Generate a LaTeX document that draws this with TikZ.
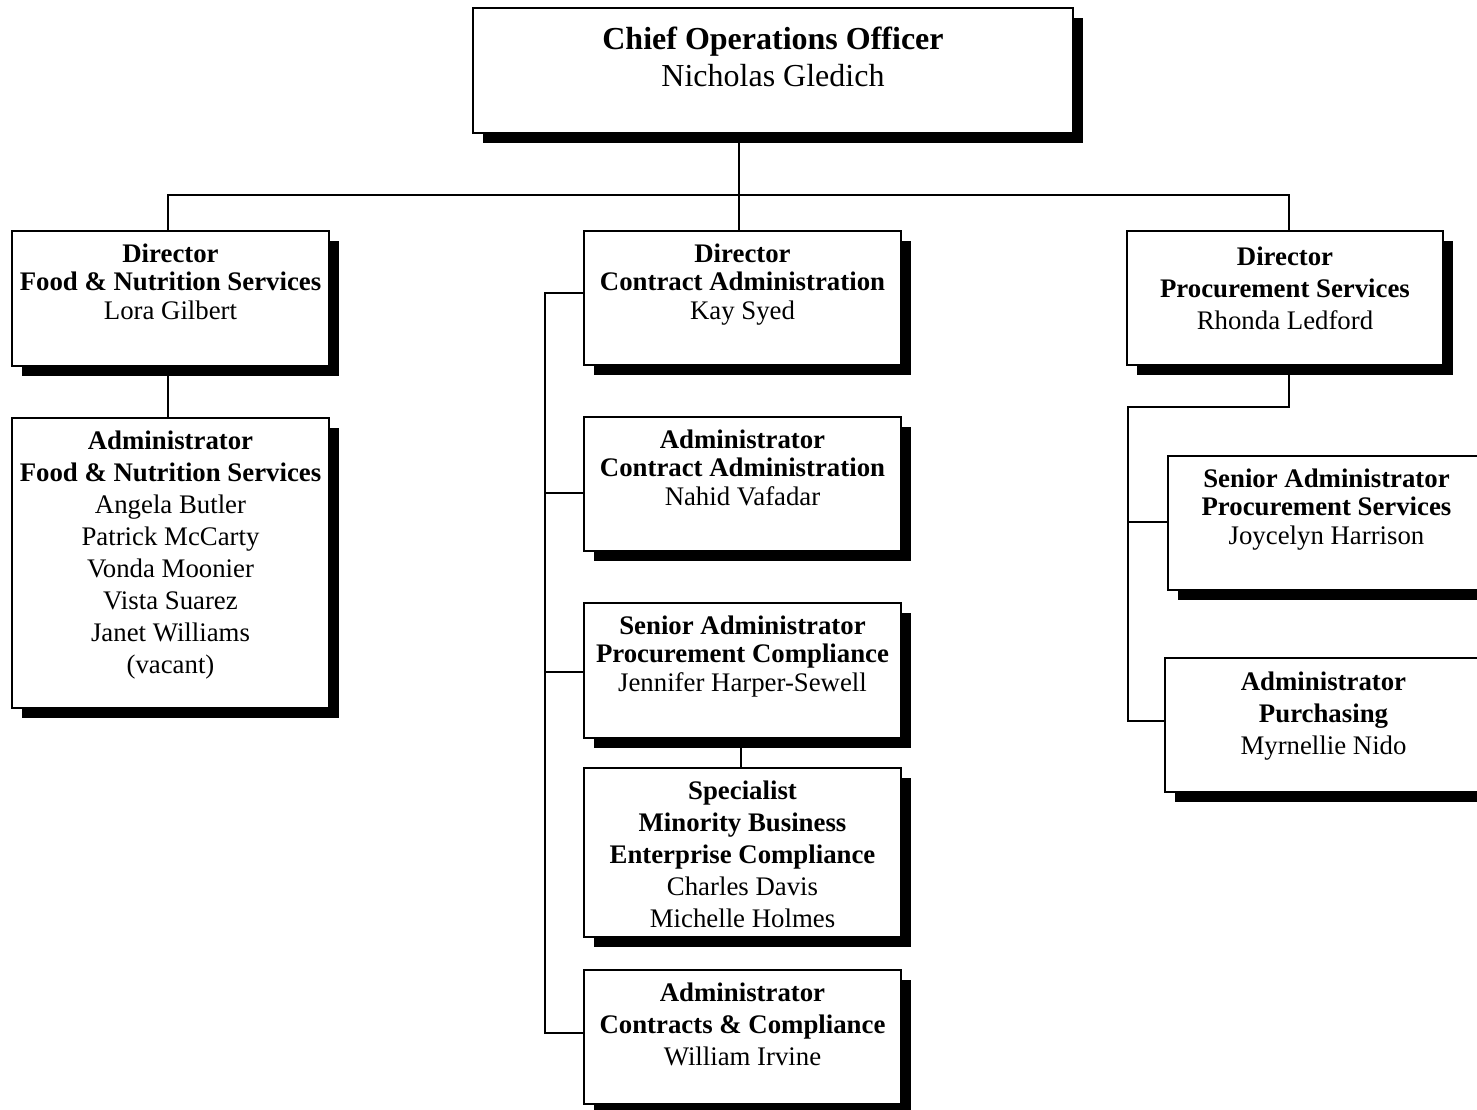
\documentclass[tikz,border=0pt]{standalone}
\usepackage{fontspec}
\setmainfont{Liberation Serif}
\begin{document}
\begin{tikzpicture}[x=0.5pt,y=-0.5pt,
  orgbox/.style={draw=black, line width=1pt, fill=white, rectangle, inner sep=0pt,
    anchor=north west, minimum width=158.5pt,
    preaction={fill=black, transform canvas={xshift=5pt,yshift=-5pt}}},
  txt/.style={anchor=north, inner sep=0pt, align=center},
  tight/.style={txt, font=\fontsize{13.4pt}{14.25pt}\selectfont},
  loose/.style={txt, font=\fontsize{13.4pt}{16pt}\selectfont},
  link/.style={draw=black, line width=0.75pt}]
\useasboundingbox (0,0) rectangle (1477,1109);
\clip (0,0) rectangle (1477,1109);

% boxes
\node[orgbox, minimum width=300pt, minimum height=62.5pt] (coo) at (472,7) {};
\node[orgbox, minimum height=67.5pt] (dfns) at (11,230) {};
\node[orgbox, minimum height=145pt] (afns) at (11,417) {};
\node[orgbox, minimum height=67pt] (dca) at (583,230) {};
\node[orgbox, minimum height=67pt] (aca) at (583,416) {};
\node[orgbox, minimum height=67.5pt] (spc) at (583,602) {};
\node[orgbox, minimum height=84.5pt] (smbe) at (583,767) {};
\node[orgbox, minimum height=67pt] (acc) at (583,969) {};
\node[orgbox, minimum width=158pt, minimum height=67pt] (dps) at (1126,230) {};
\node[orgbox, minimum height=67pt] (sps) at (1167,455) {};
\node[orgbox, minimum height=67pt] (apur) at (1164,657) {};

% texts
\node[txt, font=\fontsize{16pt}{18.5pt}\selectfont] (tcoo) at ([yshift=-10pt]coo.north)
  {\textbf{Chief Operations Officer}\\Nicholas Gledich};
\node[tight] (tdfns) at ([yshift=-6.5pt]dfns.north)
  {\textbf{Director}\\\textbf{Food \& Nutrition Services}\\Lora Gilbert};
\node[loose] (tafns) at ([yshift=-6.5pt]afns.north)
  {\textbf{Administrator}\\\textbf{Food \& Nutrition Services}\\Angela Butler\\Patrick McCarty\\Vonda Moonier\\Vista Suarez\\Janet Williams\\(vacant)};
\node[tight] (tdca) at ([yshift=-6.5pt]dca.north)
  {\textbf{Director}\\\textbf{Contract Administration}\\Kay Syed};
\node[tight] (taca) at ([yshift=-6.5pt]aca.north)
  {\textbf{Administrator}\\\textbf{Contract Administration}\\Nahid Vafadar};
\node[tight] (tspc) at ([yshift=-6.5pt]spc.north)
  {\textbf{Senior Administrator}\\\textbf{Procurement Compliance}\\Jennifer Harper-Sewell};
\node[loose] (tsmbe) at ([yshift=-6.5pt]smbe.north)
  {\textbf{Specialist}\\\textbf{Minority Business}\\\textbf{Enterprise Compliance}\\Charles Davis\\Michelle Holmes};
\node[loose] (tacc) at ([yshift=-6.5pt]acc.north)
  {\textbf{Administrator}\\\textbf{Contracts \& Compliance}\\William Irvine};
\node[loose] (tdps) at ([yshift=-8pt]dps.north)
  {\textbf{Director}\\\textbf{Procurement Services}\\Rhonda Ledford};
\node[tight] (tsps) at ([yshift=-6.5pt]sps.north)
  {\textbf{Senior Administrator}\\\textbf{Procurement Services}\\Joycelyn Harrison};
\node[loose] (tapur) at ([yshift=-7pt]apur.north)
  {\textbf{Administrator}\\\textbf{Purchasing}\\Myrnellie Nido};

% connectors
\coordinate (busL) at (168,195);
\coordinate (busR) at (1289,195);
\coordinate (busM) at (739,195);
\coordinate (midX) at (545,293);
\coordinate (rtop) at (1289,407);
\coordinate (rX) at (1128,407);
\coordinate (sj) at (741,747);

\draw[link] (busM |- coo.south) -- (busM |- dca.north);
\draw[link] (busL |- dfns.north) -- (busL) -- (busR) -- (busR |- dps.north);
\draw[link] (busL |- dfns.south) -- (busL |- afns.north);

\draw[link] (dca.west |- midX) -- (midX) -- (midX |- 0,1033) -- (acc.west |- 0,1033);
\draw[link] (midX |- 0,493) -- (aca.west |- 0,493);
\draw[link] (midX |- 0,672) -- (spc.west |- 0,672);
\draw[link] (sj) -- (sj |- smbe.north);

\draw[link] (rtop |- dps.south) -- (rtop) -- (rX) -- (rX |- 0,721) -- (apur.west |- 0,721);
\draw[link] (rX |- 0,522) -- (sps.west |- 0,522);
\end{tikzpicture}
\end{document}
